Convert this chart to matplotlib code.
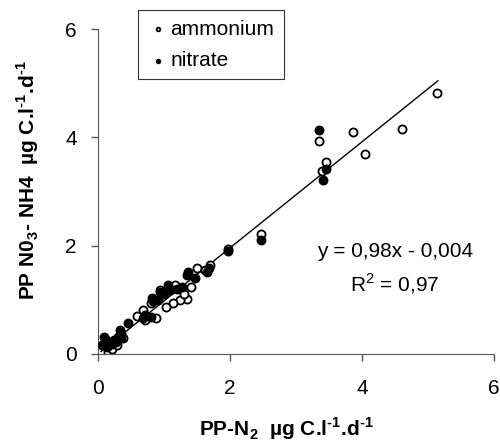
import numpy as np
import matplotlib
matplotlib.use('Agg')
import matplotlib.pyplot as plt

plt.rcParams['font.family'] = ['Liberation Sans', 'DejaVu Sans']
plt.rcParams['mathtext.fontset'] = 'custom'
plt.rcParams['mathtext.rm'] = 'Liberation Sans:bold'
plt.rcParams['mathtext.bf'] = 'Liberation Sans:bold'

# ammonium (open circles)
amm_x = [5.14, 4.61, 3.87, 4.04, 3.45, 3.35, 3.39, 2.47, 1.98, 1.70, 1.50, 1.42,
         1.35, 1.24, 1.14, 1.04, 1.17, 0.95, 0.80, 0.69, 0.89, 0.72, 0.16, 0.21,
         0.11, 0.29, 1.62, 1.30, 0.60, 0.38]
amm_y = [4.81, 4.15, 4.10, 3.70, 3.54, 3.93, 3.37, 2.21, 1.93, 1.64, 1.58, 1.24,
         1.01, 0.99, 0.94, 0.86, 1.27, 1.18, 0.94, 0.81, 0.66, 0.63, 0.04, 0.10,
         0.19, 0.16, 1.55, 1.10, 0.70, 0.30]

# nitrate (filled circles)
nit_x = [3.35, 3.45, 3.41, 2.47, 1.98, 1.68, 1.65, 1.37, 1.35, 1.27, 1.07, 1.09,
         0.94, 0.82, 0.84, 0.91, 0.72, 0.80, 0.69, 0.46, 0.34, 0.36, 0.31, 0.24,
         0.09, 0.06, 0.14, 0.19, 0.27, 0.36, 1.20, 1.00, 0.12, 0.22, 1.48]
nit_y = [4.14, 3.42, 3.21, 2.10, 1.90, 1.58, 1.52, 1.51, 1.46, 1.24, 1.27, 1.18,
         1.15, 1.03, 0.97, 1.00, 0.72, 0.69, 0.66, 0.57, 0.44, 0.38, 0.32, 0.26,
         0.32, 0.17, 0.13, 0.22, 0.22, 0.29, 1.20, 1.10, 0.25, 0.18, 1.40]

slope, intercept = 0.98, -0.004
fit_x = np.array([0.05, 5.15])

fs = 15

fig = plt.figure(figsize=(5, 4.41), dpi=100)
ax = fig.add_axes([0.1954, 0.1973, 0.7926, 0.7369])

ax.plot(fit_x, slope * fit_x + intercept, color='black', lw=1.0, zorder=1)
ax.scatter(amm_x, amm_y, s=34, facecolors='white', edgecolors='black',
           linewidths=1.3, label='ammonium', zorder=2)
ax.scatter(nit_x, nit_y, s=34, facecolors='black', edgecolors='black',
           linewidths=1.3, label='nitrate', zorder=3)

ax.set_xlim(0, 6)
ax.set_ylim(0, 6)
ax.set_xticks([0, 2, 4, 6])
ax.set_yticks([0, 2, 4, 6])
for s in ['top', 'right']:
    ax.spines[s].set_visible(False)
for s in ['left', 'bottom']:
    ax.spines[s].set_color('#555555')
ax.tick_params(axis='both', direction='out', length=5, width=1, colors='#555555',
               labelcolor='black', labelsize=fs)
ax.tick_params(axis='x', pad=13)
ax.tick_params(axis='y', pad=10)

leg = ax.legend(loc='upper left', bbox_to_anchor=(0.102, 1.058), frameon=True,
                fancybox=False, edgecolor='black', fontsize=fs, markerscale=0.45,
                handletextpad=0.1, borderpad=0.45, handlelength=1.0,
                labelspacing=0.6, borderaxespad=0)
leg.get_frame().set_linewidth(0.8)

ax.text(4.5, 1.9, 'y = 0,98x - 0,004', fontsize=fs, ha='center', va='center')
ax.text(4.5, 1.3, r'R$^\mathregular{2}$ = 0,97', fontsize=fs, ha='center', va='center')

fig.text(286 / 500, 1 - 429 / 441, r'PP-N$_2$  µg C.l$^{\text{-1}}$.d$^{\text{-1}}$',
         fontsize=fs, fontweight='bold', ha='center', va='center')
fig.text(28 / 500, 1 - 180 / 441, r'PP N0$_3$- NH4  µg C.l$^{\text{-1}}$.d$^{\text{-1}}$',
         fontsize=fs, fontweight='bold', ha='center', va='center', rotation=90)

fig.savefig('out.png', dpi=100)
